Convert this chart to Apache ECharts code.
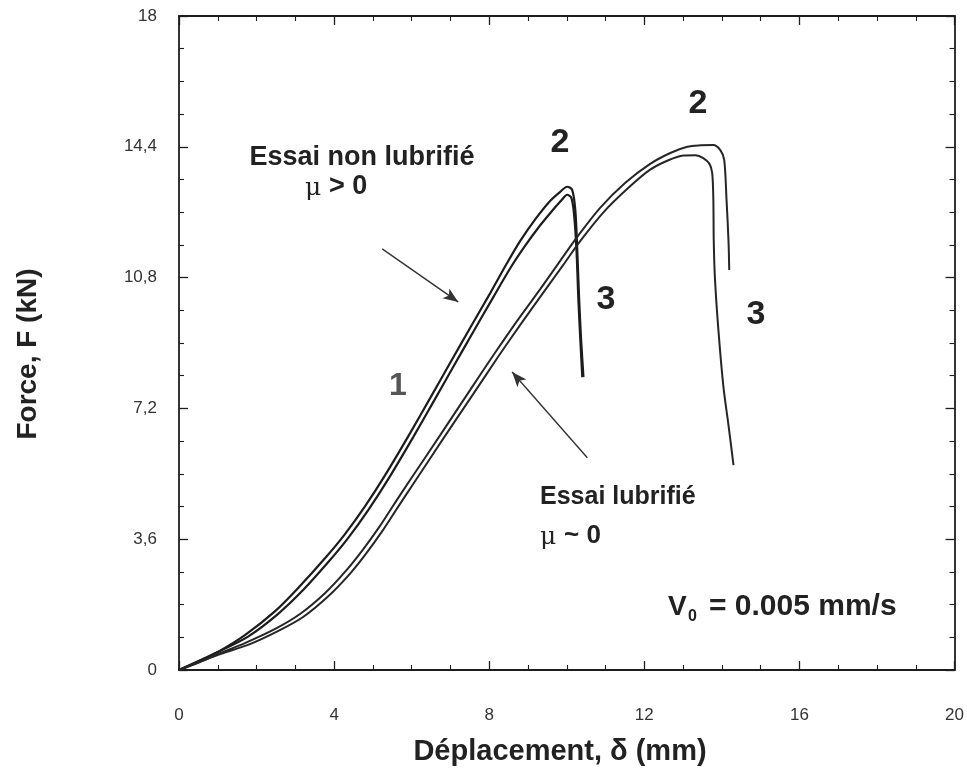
<!DOCTYPE html>
<html>
<head>
<meta charset="utf-8">
<script src="https://cdn.jsdelivr.net/npm/echarts@6/dist/echarts.min.js"></script>
<style>
html,body{margin:0;padding:0;background:#fff;}
#c{width:967px;height:783px;}
</style>
</head>
<body>
<div id="c"></div>
<script>
// Tick labels
const xTickLabels = ['0','4','8','12','16','20'];
const yTickLabels = ['0','3,6','7,2','10,8','14,4','18'];

// Non-lubricated test (two runs): [displacement mm, force kN]
const nonLubA = [[0,0],[0.54,0.25],[1.01,0.50],[1.70,0.96],[2.48,1.62],[3.12,2.31],[3.77,3.08],[4.28,3.74],[4.80,4.51],[5.32,5.37],[5.96,6.52],[6.48,7.49],[6.99,8.45],[7.51,9.42],[8.03,10.38],[8.46,11.20],[8.80,11.81],[9.19,12.41],[9.57,12.91],[9.83,13.16],[10.01,13.30],[10.14,13.21],[10.22,12.66],[10.27,11.56],[10.32,10.18],[10.37,9.08],[10.43,8.06]];
const nonLubB = [[0,0],[1.01,0.50],[1.78,0.92],[2.55,1.54],[3.20,2.20],[3.85,2.97],[4.36,3.63],[4.88,4.40],[5.40,5.26],[6.04,6.41],[6.56,7.38],[7.07,8.34],[7.59,9.31],[8.11,10.27],[8.55,11.07],[8.91,11.65],[9.30,12.22],[9.64,12.66],[9.88,12.95],[10.01,13.08],[10.12,12.99],[10.19,12.52],[10.25,11.56],[10.30,10.18],[10.35,9.08],[10.40,8.06]];

// Lubricated test (two runs)
const lubA = [[0,0],[0.54,0.22],[1.01,0.44],[1.70,0.74],[2.48,1.13],[3.12,1.54],[3.77,2.12],[4.28,2.70],[4.72,3.28],[5.18,3.96],[5.57,4.60],[5.96,5.23],[6.74,6.47],[7.51,7.71],[8.15,8.73],[8.72,9.61],[9.32,10.49],[9.83,11.26],[10.27,11.92],[10.86,12.72],[11.51,13.41],[12.15,13.93],[12.67,14.23],[13.11,14.40],[13.45,14.44],[13.78,14.45],[13.96,14.31],[14.06,14.04],[14.12,12.94],[14.17,11.83],[14.19,11.01]];
const lubB = [[0,0],[1.01,0.42],[1.78,0.69],[2.55,1.07],[3.20,1.46],[3.85,2.03],[4.36,2.59],[4.80,3.17],[5.26,3.85],[5.65,4.49],[6.04,5.12],[6.81,6.36],[7.59,7.60],[8.23,8.62],[8.80,9.50],[9.39,10.38],[9.91,11.15],[10.35,11.81],[10.94,12.59],[11.59,13.27],[12.15,13.77],[12.62,14.03],[13.01,14.16],[13.32,14.17],[13.52,14.09],[13.68,13.93],[13.75,13.68],[13.78,12.94],[13.79,11.83],[13.82,10.80],[13.91,9.36],[14.04,7.79],[14.17,6.74],[14.30,5.64]];

// Annotation arrows: [tail, head]
const arrowNonLub = [[5.24,11.59],[7.20,10.13]];
const arrowLub = [[10.53,5.84],[8.59,8.20]];

const chart = echarts.init(document.getElementById('c'), null, {renderer:'canvas'});
const AX = '#1e1e1e';
const FONT = '"Liberation Sans", Arial, Helvetica, sans-serif';

function xAx(pos, labels){
  return {
    type:'value', position:pos, min:0, max:20, interval:4,
    axisLine:{show:true, onZero:false, lineStyle:{color:AX, width:1.8}},
    axisTick:{show:true, inside:true, length:9, lineStyle:{color:AX, width:1.3}},
    minorTick:{show:true, splitNumber:4, length:5, lineStyle:{color:AX, width:1.1}},
    splitLine:{show:false}, minorSplitLine:{show:false},
    axisLabel:{show:labels, margin:37, color:'#333', fontSize:17, fontFamily:FONT,
      formatter:(v)=>xTickLabels[Math.round(v/4)]}
  };
}
function yAx(pos, labels){
  return {
    type:'value', position:pos, min:0, max:18, interval:3.6,
    axisLine:{show:true, onZero:false, lineStyle:{color:AX, width:1.8}},
    axisTick:{show:true, inside:true, length:9, lineStyle:{color:AX, width:1.3}},
    minorTick:{show:true, splitNumber:4, length:5, lineStyle:{color:AX, width:1.1}},
    splitLine:{show:false}, minorSplitLine:{show:false},
    axisLabel:{show:labels, margin:22, color:'#333', fontSize:17, fontFamily:FONT,
      formatter:(v)=>yTickLabels[Math.round(v/3.6)]}
  };
}

function curve(data, extra){
  return Object.assign({
    type:'line', data:data, xAxisIndex:0, yAxisIndex:0,
    showSymbol:false, smooth:0.3, silent:true,
    lineStyle:{color:'#1c1c1c', width:2.2}
  }, extra||{});
}

function arrowLine(a){
  return [{coord:a[0], symbol:'none'}, {coord:a[1], symbol:'arrow', symbolSize:[9,15]}];
}

const option = {
  animation:false,
  backgroundColor:'#fff',
  grid:{left:179, right:12, top:16, bottom:113},
  xAxis:[xAx('bottom', true), xAx('top', false)],
  yAxis:[yAx('left', true), yAx('right', false)],
  series:[
    curve(nonLubA, {
      markLine:{silent:true, symbol:['none','arrow'], label:{show:false},
        lineStyle:{color:'#333', width:1.4, type:'solid'},
        data:[arrowLine(arrowNonLub), arrowLine(arrowLub)]}
    }),
    curve(nonLubB),
    curve(lubA, {lineStyle:{color:'#262626', width:2}}),
    curve(lubB, {lineStyle:{color:'#262626', width:2}})
  ],
  graphic:[
    {type:'text', style:{x:560, y:752, text:'Déplacement, δ (mm)', textAlign:'center', textVerticalAlign:'middle', font:'bold 29px '+FONT, fill:'#222'}},
    {type:'text', rotation:Math.PI/2, x:28, y:354, style:{x:0, y:0, text:'Force, F (kN)', textAlign:'center', textVerticalAlign:'middle', font:'bold 28px '+FONT, fill:'#222'}},
    {type:'text', style:{x:362, y:158, text:'Essai non lubrifié', textAlign:'center', textVerticalAlign:'middle', font:'bold 27px '+FONT, fill:'#222'}},
    {type:'text', style:{x:305, y:188, text:'μ', textAlign:'left', textVerticalAlign:'middle', font:'25px "DejaVu Serif", "Liberation Serif", serif', fill:'#222'}},
    {type:'text', style:{x:329, y:187, text:'> 0', textAlign:'left', textVerticalAlign:'middle', font:'bold 27px '+FONT, fill:'#222'}},
    {type:'text', style:{x:560, y:143, text:'2', textAlign:'center', textVerticalAlign:'middle', font:'bold 34px '+FONT, fill:'#222'}},
    {type:'text', style:{x:698, y:104, text:'2', textAlign:'center', textVerticalAlign:'middle', font:'bold 34px '+FONT, fill:'#222'}},
    {type:'text', style:{x:606, y:300, text:'3', textAlign:'center', textVerticalAlign:'middle', font:'bold 34px '+FONT, fill:'#222'}},
    {type:'text', style:{x:756, y:315, text:'3', textAlign:'center', textVerticalAlign:'middle', font:'bold 34px '+FONT, fill:'#222'}},
    {type:'text', style:{x:398, y:386, text:'1', textAlign:'center', textVerticalAlign:'middle', font:'bold 32px '+FONT, fill:'#555'}},
    {type:'text', style:{x:540, y:497, text:'Essai lubrifié', textAlign:'left', textVerticalAlign:'middle', font:'bold 25px '+FONT, fill:'#222'}},
    {type:'text', style:{x:540, y:537, text:'μ', textAlign:'left', textVerticalAlign:'middle', font:'25px "DejaVu Serif", "Liberation Serif", serif', fill:'#222'}},
    {type:'text', style:{x:564, y:536, text:'~ 0', textAlign:'left', textVerticalAlign:'middle', font:'bold 26px '+FONT, fill:'#222'}},
    {type:'text', style:{x:668, y:607, text:'V', textAlign:'left', textVerticalAlign:'middle', font:'bold 28px '+FONT, fill:'#222'}},
    {type:'text', style:{x:688, y:617, text:'0', textAlign:'left', textVerticalAlign:'middle', font:'bold 16px '+FONT, fill:'#222'}},
    {type:'text', style:{x:709, y:607, text:'= 0.005 mm/s', textAlign:'left', textVerticalAlign:'middle', font:'bold 30px '+FONT, fill:'#222'}}
  ]
};
chart.setOption(option);
</script>
</body>
</html>
